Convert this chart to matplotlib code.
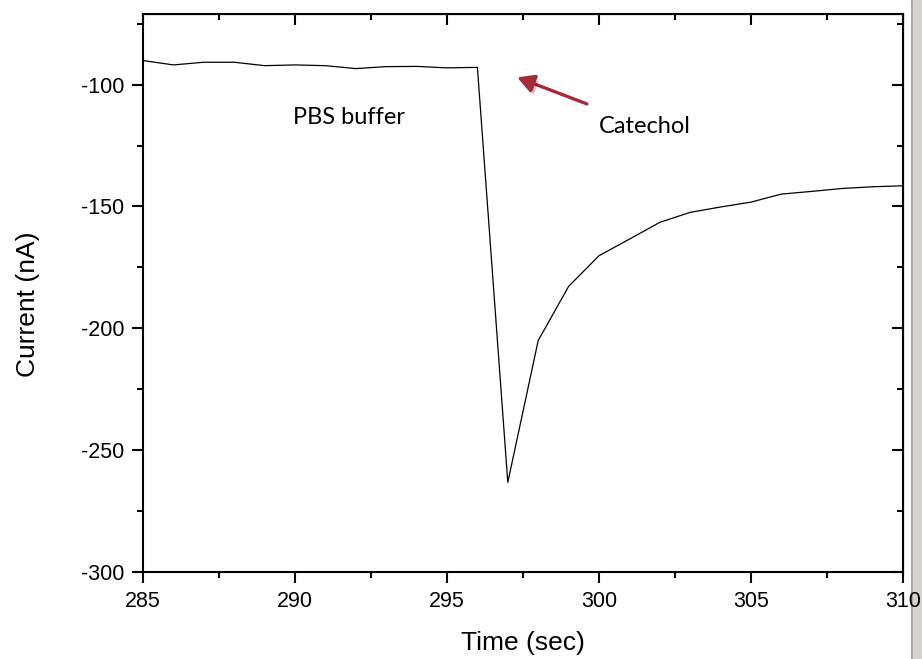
import numpy as np
import matplotlib
matplotlib.use("Agg")
import matplotlib.pyplot as plt
import matplotlib.patheffects as pe
from matplotlib.patches import Rectangle
from matplotlib.ticker import MultipleLocator

# amperometric response
time_sec = [285, 286, 287, 288, 289, 290, 291, 292, 293, 294, 295, 296,
            297, 298, 299, 300, 301, 302, 303, 304, 305, 306, 307, 308, 309, 310]
current_na = [-90.1, -91.9, -90.8, -90.8, -92.2, -91.9, -92.2, -93.4, -92.6, -92.5, -93.1, -92.9,
              -263.2, -205.0, -182.8, -170.2, -163.4, -156.5, -152.4, -150.2, -148.2, -144.9,
              -143.8, -142.6, -141.9, -141.5]

x_ticks = [285, 290, 295, 300, 305, 310]
y_ticks = [-300, -250, -200, -150, -100]

tick_font = "Liberation Sans"
note_font = "Lato"

plt.rcParams["axes.unicode_minus"] = False

fig = plt.figure(figsize=(9.22, 6.59), dpi=100)
ax = fig.add_axes([143 / 922, 1 - 572 / 659, 760 / 922, 558 / 659])

ax.plot(time_sec, current_na, color="black", lw=0.9)

ax.set_xlim(285, 310)
ax.set_ylim(-300, -71)
ax.set_xticks(x_ticks)
ax.set_yticks(y_ticks)
ax.xaxis.set_minor_locator(MultipleLocator(2.5))
ax.yaxis.set_minor_locator(MultipleLocator(25))

for s in ax.spines.values():
    s.set_linewidth(1.5)

ax.tick_params(which="both", width=1.5)
ax.tick_params(which="major", length=8)
ax.tick_params(which="minor", length=4)
ax.tick_params(axis="both", which="both", direction="out", labelsize=15.5, pad=5.5)

# inward ticks on the top and right, without labels
axt = ax.secondary_xaxis("top")
axt.set_xticks(x_ticks)
axt.xaxis.set_minor_locator(MultipleLocator(2.5))
axt.tick_params(which="both", direction="in", width=1.5, labeltop=False)
axt.tick_params(which="major", length=8)
axt.tick_params(which="minor", length=4)
axr = ax.secondary_yaxis("right")
axr.set_yticks(y_ticks)
axr.yaxis.set_minor_locator(MultipleLocator(25))
axr.tick_params(which="both", direction="in", width=1.5, labelright=False)
axr.tick_params(which="major", length=8)
axr.tick_params(which="minor", length=4)

for lab in ax.get_xticklabels() + ax.get_yticklabels():
    lab.set_family(tick_font)

ax.set_xlabel("Time (sec)", family=tick_font, fontsize=19, labelpad=14)
ax.set_ylabel("Current (nA)", family=tick_font, fontsize=19)
ax.yaxis.set_label_coords(-0.135, 0.48)

ax.text(289.93, -113.5, "PBS buffer", family=note_font, fontsize=17, va="center", ha="left")
ax.text(300.0, -117.0, "Catechol", family=note_font, fontsize=17, va="center", ha="left")

ax.annotate("", xy=(297.31, -97.0), xytext=(299.6, -107.9),
            arrowprops=dict(arrowstyle="-|>,head_length=1.0,head_width=0.55",
                            color="#a52a3a", lw=2.4, shrinkA=0, shrinkB=0,
                            path_effects=[pe.SimplePatchShadow(offset=(2, -3), alpha=0.25),
                                          pe.Normal()]))

# grey window edge on the right
fig.patches.append(Rectangle((912 / 922, 0), 10 / 922, 1, transform=fig.transFigure,
                             facecolor="#d6d3ce", edgecolor="none", zorder=-1))
fig.patches.append(Rectangle((911 / 922, 0), 1.5 / 922, 1, transform=fig.transFigure,
                             facecolor="#a8a8a8", edgecolor="none", zorder=-1))

fig.savefig("out.png", dpi=100)
